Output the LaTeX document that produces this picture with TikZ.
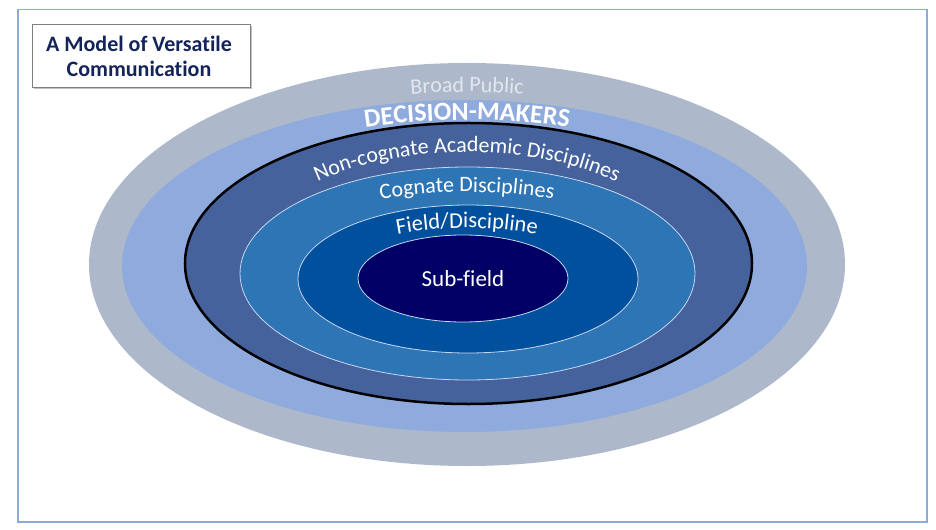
\documentclass[tikz,border=0pt]{standalone}
\usepackage{fontspec}
\setmainfont{Carlito}[Ligatures=NoCommon]
\usetikzlibrary{decorations.text}
\definecolor{framec}{HTML}{8EAADB}
\definecolor{bandgray}{HTML}{ADB9CA}
\definecolor{bandlight}{HTML}{8FAADC}
\definecolor{banddark}{HTML}{46629C}
\definecolor{bandcog}{HTML}{2E75B6}
\definecolor{bandfield}{HTML}{00509E}
\definecolor{bandsub}{HTML}{000066}
\definecolor{sepline}{HTML}{C8D6EE}
\definecolor{titlec}{HTML}{14245A}
\definecolor{broadc}{HTML}{E2E6EE}
\tikzset{
  band/.style={fill=#1, draw=none},
  sepband/.style={fill=#1, draw=sepline, line width=0.8bp},
  arctext/.style={decorate, decoration={text along path, text align=center, text={#1}}},
}
\begin{document}
\begin{tikzpicture}[x=1bp,y=-1bp]
\useasboundingbox (0,0) rectangle (936,530);
\fill[white] (0,0) rectangle (936,530);
\draw[framec, line width=1.5bp] (18,9.5) rectangle (927,522);
% title
\fill[black!25] (34,26) rectangle (252,89);
\node[draw=black!50, fill=white, line width=0.8bp, minimum width=218bp, minimum height=63bp, inner sep=0pt] (titlebox) at (141,55.5) {};
\node[text=titlec, font=\fontsize{22bp}{25bp}\selectfont\bfseries, align=center] (title) at (139,56) {A Model of Versatile\\Communication};
% ellipses
\path[band=bandgray] (467,264.5) ellipse [x radius=378bp, y radius=201.5bp];
\path[band=bandlight] (464.5,266) ellipse [x radius=342.5bp, y radius=166bp];
\path[fill=banddark, draw=black, line width=2.5bp] (468.5,263.5) ellipse [x radius=283.5bp, y radius=140.5bp];
\path[sepband=bandcog] (467.5,273.5) ellipse [x radius=227.5bp, y radius=106.5bp];
\path[sepband=bandfield] (468,279) ellipse [x radius=170bp, y radius=74bp];
\path[sepband=bandsub] (463,278.5) ellipse [x radius=105bp, y radius=43.5bp];
% curved labels
\coordinate (c0) at (467,265);
\path[arctext={|\fontsize{22bp}{26bp}\selectfont\color{broadc}|Broad Public}]
  ([shift={(170:340bp and 173bp)}]c0) arc[start angle=170, end angle=10, x radius=340bp, y radius=173bp];
\path[arctext={|\fontsize{26bp}{30bp}\selectfont\bfseries\color{white}|DECISION-MAKERS}]
  ([shift={(160:320bp and 145bp)}]c0) arc[start angle=160, end angle=20, x radius=320bp, y radius=145bp];
\coordinate (c3) at (467,270);
\path[arctext={|\fontsize{22bp}{26bp}\selectfont\color{white}|Non-cognate Academic Disciplines}]
  ([shift={(178:225bp and 118bp)}]c3) arc[start angle=178, end angle=2, x radius=225bp, y radius=118bp];
\coordinate (c1) at (467,270);
\path[arctext={|\fontsize{22bp}{26bp}\selectfont\color{white}|Cognate Disciplines}]
  ([shift={(165:205bp and 78bp)}]c1) arc[start angle=165, end angle=15, x radius=205bp, y radius=78bp];
\coordinate (c2) at (467,279);
\path[arctext={|\fontsize{22.5bp}{26bp}\selectfont\color{white}|Field/Discipline}]
  ([shift={(160:144bp and 51bp)}]c2) arc[start angle=160, end angle=20, x radius=144bp, y radius=51bp];
\node[text=white, font=\fontsize{23bp}{27bp}\selectfont] (sub) at (463,279) {Sub-field};
\end{tikzpicture}
\end{document}
